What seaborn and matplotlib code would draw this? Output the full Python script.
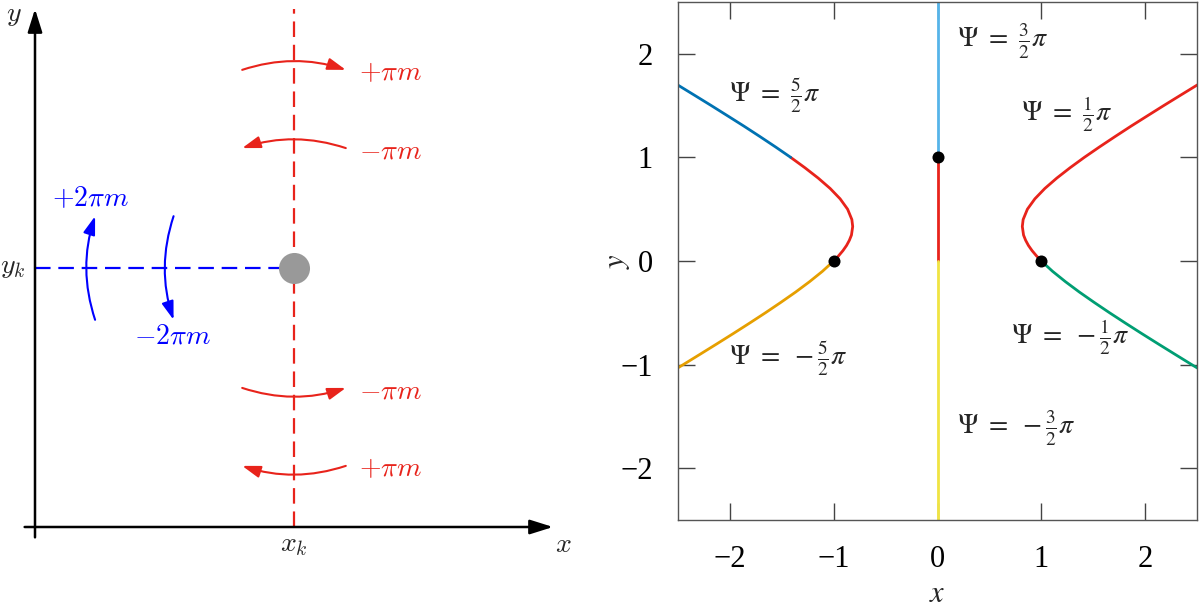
import matplotlib
matplotlib.use("Agg")
import matplotlib.pyplot as plt
import seaborn as sns

sns.set_theme(style="white")
plt.rcParams["font.family"] = ["Liberation Serif", "DejaVu Serif"]
plt.rcParams["mathtext.fontset"] = "stix"

# ---------------- data ----------------
# left sketch, in units where x_k = y_k = 1
xk, yk = 1.0, 1.0
axis_len = 2.0
arc_half = 0.2
red_arc_y = [1.765, 1.463, 0.537, 0.236]
red_arc_dir = [1, -1, 1, -1]          # +1 arrow points right
red_arc_up = [1, 1, -1, -1]           # +1 arc bends upward
red_labels = [r"$+\pi m$", r"$-\pi m$", r"$-\pi m$", r"$+\pi m$"]
blue_arc_x = [0.232, 0.535]
blue_arc_dir = [1, -1]                # +1 arrow points up
blue_labels = [r"$+2\pi m$", r"$-2\pi m$"]

# right plot: branch x > 0 (left branch is its mirror)
inner_y = [0.0, 0.05, 0.1, 0.15, 0.2, 0.25, 0.333, 0.4, 0.5, 0.6, 0.7, 0.8, 0.9, 1.0]
inner_x = [1.0, 0.953, 0.911, 0.876, 0.849, 0.829, 0.817, 0.825, 0.866, 0.938,
           1.034, 1.149, 1.277, 1.414]
outer_y = [1.0, 1.1, 1.2, 1.3, 1.4, 1.5, 1.6, 1.7]
outer_x = [1.414, 1.559, 1.709, 1.862, 2.020, 2.179, 2.341, 2.504]
lower_y = [0.0, -0.1, -0.2, -0.3, -0.4, -0.5, -0.6, -0.7, -0.8, -0.9, -1.0, -1.04]
lower_x = [1.0, 1.109, 1.233, 1.367, 1.510, 1.658, 1.811, 1.967, 2.126, 2.287,
           2.449, 2.515]
stem_red_y = [0.0, 1.0]
stem_top_y = [1.0, 2.5]
stem_bot_y = [-2.5, 0.0]
pts_x = [-1.0, 1.0, 0.0]
pts_y = [0.0, 0.0, 1.0]
ticks = [-2, -1, 0, 1, 2]
psi_labels = [
    (r"$\Psi\ =\ \frac{3}{2}\pi$", 0.19, 2.12),
    (r"$\Psi\ =\ \frac{5}{2}\pi$", -2.01, 1.60),
    (r"$\Psi\ =\ \frac{1}{2}\pi$", 0.80, 1.42),
    (r"$\Psi\ =\ -\frac{1}{2}\pi$", 0.71, -0.73),
    (r"$\Psi\ =\ -\frac{5}{2}\pi$", -2.01, -0.94),
    (r"$\Psi\ =\ -\frac{3}{2}\pi$", 0.19, -1.62),
]

RED = "#e8231b"
c_blue, c_orange, c_green = "#0072B2", "#E69F00", "#009E73"
c_sky, c_yellow = "#56B4E9", "#F0E442"

fig = plt.figure(figsize=(12, 6.13), dpi=100)

# ---------------- left: sketch ----------------
ax1 = fig.add_axes([0, 0, 0.5, 1])
scale = 259.0  # px per unit
ax1.set_xlim(-35 / scale, 565 / scale)
ax1.set_ylim(-86 / scale, 527 / scale)
ax1.axis("off")

axis_arrow = dict(arrowstyle="-|>,head_length=0.7,head_width=0.22",
                  color="black", lw=1.8, shrinkA=0, shrinkB=0, mutation_scale=20)
ax1.annotate("", xy=(axis_len, 0), xytext=(-0.04, 0), arrowprops=axis_arrow)
ax1.annotate("", xy=(0, axis_len), xytext=(0, -0.04), arrowprops=axis_arrow)

ax1.plot([xk, xk], [0, axis_len], color=RED, lw=1.6, dashes=(7, 3.5), zorder=1)
ax1.plot([0, xk], [yk, yk], color="blue", lw=1.6, dashes=(7, 3.5), zorder=1)
ax1.scatter([xk], [yk], s=500, color="#999999", zorder=3, linewidths=0)

tfont = dict(fontsize=20, math_fontfamily="cm")
ax1.text(-0.08, 1.975, r"$y$", ha="center", va="center", **tfont)
ax1.text(2.04, -0.07, r"$x$", ha="center", va="center", **tfont)
ax1.text(xk, -0.07, r"$x_k$", ha="center", va="center", **tfont)
ax1.text(-0.085, yk, r"$y_k$", ha="center", va="center", **tfont)

arc_arrow = dict(arrowstyle="-|>,head_length=0.55,head_width=0.18",
                 lw=1.5, shrinkA=0, shrinkB=0, mutation_scale=20)
for y0, d, up, lab in zip(red_arc_y, red_arc_dir, red_arc_up, red_labels):
    rad = -0.165 * up * d
    ax1.annotate("", xy=(xk + d * arc_half, y0), xytext=(xk - d * arc_half, y0),
                 arrowprops=dict(color=RED, connectionstyle=f"arc3,rad={rad}",
                                 **arc_arrow))
    ax1.text(xk + 0.25, y0 - 0.015, lab, color=RED, ha="left", va="center", **tfont)

for x0, d, lab in zip(blue_arc_x, blue_arc_dir, blue_labels):
    rad = -0.165 * d
    ax1.annotate("", xy=(x0, yk + d * arc_half), xytext=(x0, yk - d * arc_half),
                 arrowprops=dict(color="blue", connectionstyle=f"arc3,rad={rad}",
                                 **arc_arrow))
ax1.text(0.216, 1.266, blue_labels[0], color="blue", ha="center", va="center", **tfont)
ax1.text(0.531, 0.734, blue_labels[1], color="blue", ha="center", va="center", **tfont)

# ---------------- right: contour plot ----------------
ax2 = fig.add_axes([678 / 1200, 93 / 613, 519 / 1200, 518 / 613])
lw = 2.0
neg = lambda v: [-a for a in v]

sns.lineplot(x=inner_x + outer_x[1:], y=inner_y + outer_y[1:], sort=False,
             estimator=None, color=RED, lw=lw, ax=ax2)
sns.lineplot(x=lower_x, y=lower_y, sort=False, estimator=None,
             color=c_green, lw=lw, ax=ax2)
sns.lineplot(x=neg(inner_x), y=inner_y, sort=False, estimator=None,
             color=RED, lw=lw, ax=ax2)
sns.lineplot(x=neg(outer_x), y=outer_y, sort=False, estimator=None,
             color=c_blue, lw=lw, ax=ax2)
sns.lineplot(x=neg(lower_x), y=lower_y, sort=False, estimator=None,
             color=c_orange, lw=lw, ax=ax2)
sns.lineplot(x=[0, 0], y=stem_red_y, sort=False, estimator=None,
             color=RED, lw=lw, ax=ax2)
sns.lineplot(x=[0, 0], y=stem_top_y, sort=False, estimator=None,
             color=c_sky, lw=lw, ax=ax2)
sns.lineplot(x=[0, 0], y=stem_bot_y, sort=False, estimator=None,
             color=c_yellow, lw=lw, ax=ax2)
sns.scatterplot(x=pts_x, y=pts_y, color="black", s=75, linewidth=0,
                zorder=5, ax=ax2)

for txt, tx, ty in psi_labels:
    ax2.text(tx, ty, txt, ha="left", va="center", fontsize=20)

ax2.set_xlim(-2.5, 2.5)
ax2.set_ylim(-2.5, 2.5)
ax2.set_xticks(ticks)
ax2.set_yticks(ticks)
ax2.tick_params(direction="in", length=12, width=1, color="#444444",
                top=True, right=True, bottom=True, left=True,
                labelsize=22, pad=18, labelcolor="black")
for sp in ax2.spines.values():
    sp.set_color("#555555")
    sp.set_linewidth(1)
ax2.grid(False)
ax2.set_xlabel(r"$x$", fontsize=22, labelpad=4)
ax2.set_ylabel(r"$y$", fontsize=22, labelpad=-8)

fig.savefig("out.png", dpi=100)
